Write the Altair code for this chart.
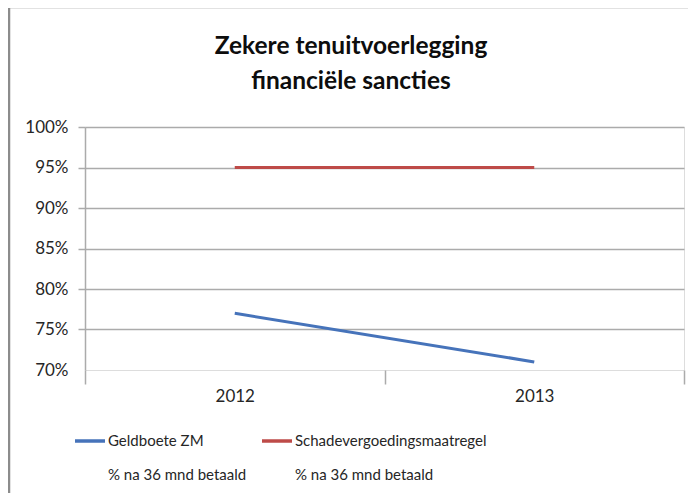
import altair as alt
import pandas as pd

years = ["2012", "2013"]
series_names = [
    "Geldboete ZM|% na 36 mnd betaald",
    "Schadevergoedingsmaatregel|% na 36 mnd betaald",
]
geldboete = [0.77, 0.71]
schadevergoeding = [0.95, 0.95]
colors = ["#4673BA", "#BE4B48"]
y_ticks = [0.70, 0.75, 0.80, 0.85, 0.90, 0.95, 1.00]
title_lines = ["Zekere tenuitvoerlegging", "financiële sancties"]

rows = []
for name, vals in zip(series_names, [geldboete, schadevergoeding]):
    for yr, v in zip(years, vals):
        rows.append({"jaar": yr, "reeks": name, "waarde": v})
df = pd.DataFrame(rows)

FONT = "Lato, sans-serif"
GRID = "#ABABAB"

lines = alt.Chart(df).mark_line(strokeWidth=3, clip=False).encode(
    x=alt.X(
        "jaar:N",
        title=None,
        scale=alt.Scale(paddingInner=0, paddingOuter=0),
        axis=alt.Axis(
            domain=False,
            ticks=True,
            tickBand="extent",
            tickSize=14,
            tickColor=GRID,
            tickWidth=1.5,
            labelAngle=0,
            labelFontSize=17,
            labelColor="#262626",
            labelFont=FONT,
            labelPadding=4,
            grid=False,
        ),
    ),
    y=alt.Y(
        "waarde:Q",
        title=None,
        scale=alt.Scale(domain=[0.70, 1.00], nice=False, zero=False),
        axis=alt.Axis(
            values=y_ticks,
            format=".0%",
            domain=True,
            domainColor=GRID,
            domainWidth=1.5,
            ticks=True,
            tickSize=7,
            tickColor={"condition": {"test": "datum.value < 0.71", "value": "transparent"}, "value": GRID},
            tickWidth=1.5,
            grid=True,
            gridColor={"condition": {"test": "datum.value < 0.71", "value": "transparent"}, "value": GRID},
            gridWidth=1.5,
            labelFontSize=17,
            labelColor="#262626",
            labelFont=FONT,
            labelPadding=10,
        ),
    ),
    color=alt.Color(
        "reeks:N",
        sort=series_names,
        scale=alt.Scale(domain=series_names, range=colors),
        legend=alt.Legend(
            title=None,
            orient="none",
            legendX=-12,
            legendY=297,
            direction="horizontal",
            columns=2,
            columnPadding=8,
            symbolType="stroke",
            symbolSize=900,
            symbolStrokeWidth=3.5,
            labelFontSize=15,
            labelFont=FONT,
            labelColor="#262626",
            labelLimit=400,
            labelOffset=1,
            labelBaseline="middle",
            labelExpr="[split(datum.label, '|')[0], '\u2800', split(datum.label, '|')[1]]",
        ),
    ),
)

border = alt.Chart(alt.Data(values=[{}])).mark_rect(
    fill=None, stroke="#8C8C8C", strokeWidth=2.5, clip=False
).encode(
    x=alt.value(-76),
    y=alt.value(-120),
    x2=alt.value(760),
    y2=alt.value(520),
)

title = alt.Chart(alt.Data(values=[{}])).mark_text(
    font=FONT,
    fontSize=24.5,
    fontWeight="bold",
    color="#0D0D0D",
    lineHeight=35,
    align="center",
    baseline="middle",
    clip=False,
).encode(
    x=alt.value(266),
    y=alt.value(-80),
    text=alt.value(title_lines),
)

chart = alt.layer(border, title, lines).properties(
    width=599,
    height=243,
    autosize=alt.AutoSizeParams(type="none"),
    padding={"left": 77, "top": 119, "right": 4, "bottom": 123},
).configure_view(stroke=None).configure(background="white")

chart.save("out.html", embed_options={"renderer": "svg", "actions": False})
